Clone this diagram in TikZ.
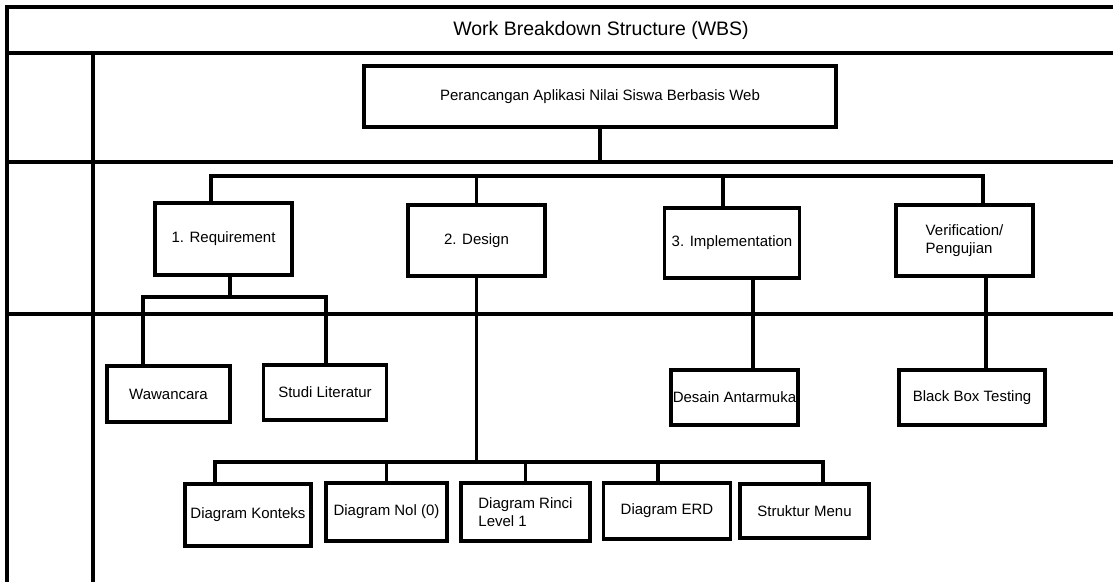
\documentclass[tikz,border=0pt]{standalone}
\usepackage{fontspec}
\setmainfont{Liberation Sans}
\usetikzlibrary{positioning}
\tikzstyle{garis} = [line width=3.2pt]
\tikzstyle{tarea} = [draw=black, line width=3.2pt, rectangle, inner sep=0pt, align=center, font=\fontsize{15}{18.5}\selectfont]
\tikzstyle{judul} = [font=\fontsize{19.5}{23}\selectfont]

\begin{document}
\begin{tikzpicture}[x=1pt, y=-1pt]
	\useasboundingbox (0,0) rectangle (1113,582);
	\draw[garis] (1113,7) -- (7,7) -- (7,582);
	\draw[garis] (7,53) -- (1113,53);
	\draw[garis] (7,162) -- (1113,162);
	\draw[garis] (7,314) -- (1113,314);
	\draw[garis] (93,53) -- (93,582);
	\node[judul] (judul) at (601,30) {Work Breakdown Structure (WBS)};

	\node[tarea, minimum width=472pt, minimum height=61pt] (wbs) at (600,96.5) {Perancangan Aplikasi Nilai Siswa Berbasis Web};
	\node[tarea, minimum width=137pt, minimum height=72pt] (req) at (223.5,239) {1. Requirement};
	\node[tarea, minimum width=137pt, minimum height=71pt] (des) at (476.5,240.5) {2. Design};
	\node[tarea, minimum width=135pt, minimum height=70pt] (imp) at (732,243) {3. Implementation};
	\node[tarea, minimum width=137pt, minimum height=71pt, align=left] (ver) at (964.5,240.5) {Verification/\\Pengujian};
	\node[tarea, minimum width=123pt, minimum height=56pt] (waw) at (168.5,394) {Wawancara};
	\node[tarea, minimum width=123pt, minimum height=55pt] (stu) at (325,392.5) {Studi Literatur};
	\node[tarea, minimum width=127pt, minimum height=55pt] (ant) at (734.5,397.5) {Desain Antarmuka};
	\node[tarea, minimum width=146pt, minimum height=55pt] (bbt) at (972,397.5) {Black Box Testing};
	\node[tarea, minimum width=126pt, minimum height=62pt] (kon) at (248,515) {Diagram Konteks};
	\node[tarea, minimum width=121pt, minimum height=58pt] (nol) at (386.5,512) {Diagram Nol (0)};
	\node[tarea, minimum width=129pt, minimum height=58pt, align=left] (rin) at (525.5,512) {Diagram Rinci\\Level 1};
	\node[tarea, minimum width=127pt, minimum height=56pt] (erd) at (667,511) {Diagram ERD};
	\node[tarea, minimum width=129pt, minimum height=54pt] (men) at (804.5,511) {Struktur Menu};

	\coordinate (baris) at (7,162);
	\coordinate (bus1L) at (211,176);
	\coordinate (bus1R) at (983,176);
	\coordinate (d3) at (723,176);
	\coordinate (r2) at (230,297);
	\coordinate (bus2L) at (143,297);
	\coordinate (bus2R) at (326,297);
	\coordinate (bus3L) at (215,462);
	\coordinate (bus3R) at (823,462);
	\coordinate (e4) at (658,462);
	\coordinate (i1) at (753,320);
	\coordinate (v1) at (986,320);

	\draw[garis] (wbs.south) -- (wbs.south |- baris);
	\draw[garis] (bus1L |- req.north) -- (bus1L) -- (bus1R) -- (bus1R |- ver.north);
	\draw[garis] (des.north) -- (des.north |- bus1L);
	\draw[garis] (d3) -- (d3 |- imp.north);
	\draw[garis] (r2 |- req.south) -- (r2);
	\draw[garis] (bus2L |- waw.north) -- (bus2L) -- (bus2R) -- (bus2R |- stu.north);
	\draw[garis] (des.south) -- (des.south |- bus3L);
	\draw[garis] (bus3L |- kon.north) -- (bus3L) -- (bus3R) -- (bus3R |- men.north);
	\draw[garis] (nol.north) -- (nol.north |- bus3L);
	\draw[garis] (rin.north) -- (rin.north |- bus3L);
	\draw[garis] (e4) -- (e4 |- erd.north);
	\draw[garis] (i1 |- imp.south) -- (i1 |- ant.north);
	\draw[garis] (v1 |- ver.south) -- (v1 |- bbt.north);
\end{tikzpicture}
\end{document}
